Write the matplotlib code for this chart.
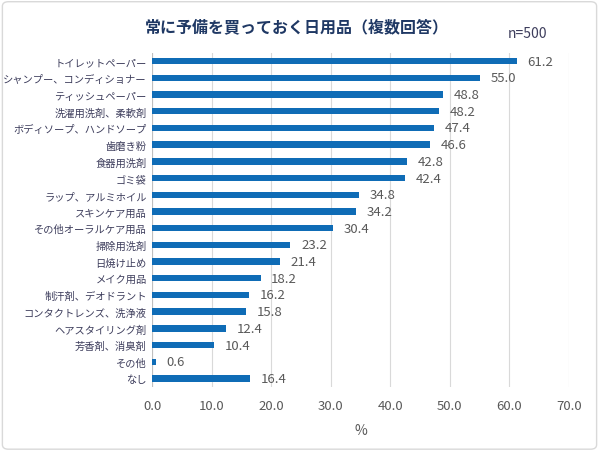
import matplotlib.pyplot as plt
from matplotlib.patches import FancyBboxPatch

plt.rcParams['font.family'] = ['Noto Sans CJK JP', 'DejaVu Sans']

labels = ['トイレットペーパー', 'シャンプー、コンディショナー', 'ティッシュペーパー', '洗濯用洗剤、柔軟剤',
          'ボディソープ、ハンドソープ', '歯磨き粉', '食器用洗剤', 'ゴミ袋', 'ラップ、アルミホイル',
          'スキンケア用品', 'その他オーラルケア用品', '掃除用洗剤', '日焼け止め', 'メイク用品',
          '制汗剤、デオドラント', 'コンタクトレンズ、洗浄液', 'ヘアスタイリング剤', '芳香剤、消臭剤',
          'その他', 'なし']
values = [61.2, 55.0, 48.8, 48.2, 47.4, 46.6, 42.8, 42.4, 34.8, 34.2, 30.4,
          23.2, 21.4, 18.2, 16.2, 15.8, 12.4, 10.4, 0.6, 16.4]

txt = '#3d3d5c'
bar_c = '#0f6cb6'

fig = plt.figure(figsize=(5.99, 4.52), dpi=100)
fig.patches.append(FancyBboxPatch((0.004, 0.004), 0.992, 0.99, boxstyle='round,pad=0,rounding_size=0.01',
                                  transform=fig.transFigure, fill=False, ec='#d9d9d9', lw=1))
ax = fig.add_axes([0.254, 0.142, 0.696, 0.739])

y = list(range(len(labels)))
bars = ax.barh(y, values, height=0.38, color=bar_c, zorder=3)
for yi, v in zip(y, values):
    ax.text(v + 1.8, yi, f'{v:.1f}', va='center', ha='left', fontsize=9.5, color='#595959')

ax.set_ylim(len(labels) - 0.5, -0.5)
ax.set_yticks(y)
ax.set_yticklabels(labels, fontsize=7.4, color=txt)
ax.set_xlim(0, 70)
ax.set_xticks(range(0, 71, 10))
ax.set_xticklabels([f'{t:.1f}' for t in range(0, 71, 10)], fontsize=9.5, color='#595959')
ax.tick_params(length=0, pad=4)
ax.tick_params(axis='x', pad=9)
ax.grid(axis='x', color='#d9d9d9', lw=0.8, zorder=0)
for s in ax.spines.values():
    s.set_visible(False)
ax.axvline(0, color='#bfbfbf', lw=0.8, zorder=2)
ax.set_xlabel('%', fontsize=10, color='#595959', labelpad=8)

fig.text(0.495, 0.94, '常に予備を買っておく日用品（複数回答）', ha='center', va='center',
         fontsize=11.5, fontweight='bold', color='#1f3864')
fig.text(0.88, 0.925, 'n=500', ha='center', va='center', fontsize=10, color=txt)

fig.savefig('out.png', dpi=100)
